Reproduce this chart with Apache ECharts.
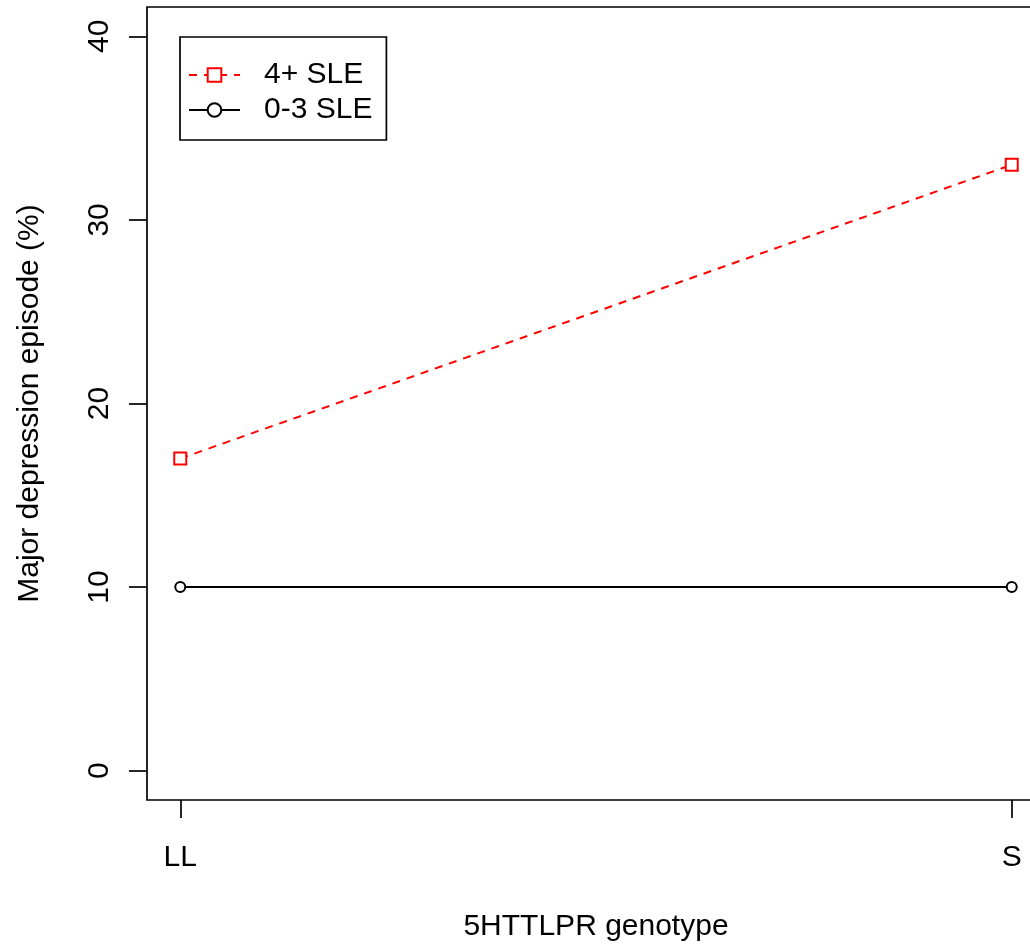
<!DOCTYPE html>
<html>
<head>
<meta charset="utf-8">
<script src="https://cdn.jsdelivr.net/npm/echarts@6/dist/echarts.min.js"></script>
<style>
  html, body { margin: 0; padding: 0; background: #fff; }
  #chart { width: 1030px; height: 948px; }
</style>
</head>
<body>
<div id="chart"></div>
<script>
// Genotype groups along the x axis
const genotypes = ['LL', 'S'];
// Percent with a major depression episode, by number of stressful life events
const sle4plus = [17, 33];
const sle0to3 = [10, 10];
const seriesNames = ['4+ SLE', '0-3 SLE'];
// Y axis tick values
const yTicks = [0, 10, 20, 30, 40];

const FONT = 'Liberation Sans, Arial, Helvetica, sans-serif';
const xPos = genotypes.map((g, i) => i + 1);

const chart = echarts.init(document.getElementById('chart'), null, { renderer: 'canvas' });

chart.setOption({
  animation: false,
  backgroundColor: '#fff',
  grid: {
    left: 147, top: 7, height: 793, width: 898,
    outerBoundsMode: 'none', containLabel: false,
    show: true, borderColor: '#000', borderWidth: 1.7, backgroundColor: 'transparent'
  },
  legend: {
    left: 180, top: 37,
    orient: 'vertical',
    data: seriesNames,
    backgroundColor: '#fff',
    borderColor: '#000', borderWidth: 1.7,
    padding: [23, 14, 15, 8],
    itemWidth: 51, itemHeight: 17, itemGap: 5,
    textStyle: { fontFamily: FONT, fontSize: 30, color: '#000', padding: [0, 0, 0, 19] }
  },
  xAxis: {
    type: 'value',
    min: 0.96, max: 2.04,
    splitLine: { show: false },
    axisLine: { show: false, onZero: false },
    axisTick: { show: true, inside: false, customValues: xPos, length: 18, lineStyle: { color: '#000', width: 1.7 } },
    axisLabel: {
      customValues: xPos, margin: 43,
      formatter: v => genotypes[Math.round(v) - 1] || '',
      fontFamily: FONT, fontSize: 30, color: '#000'
    },
    name: '5HTTLPR genotype',
    nameLocation: 'middle', nameGap: 112,
    nameTextStyle: { fontFamily: FONT, fontSize: 30, color: '#000' }
  },
  yAxis: {
    type: 'value',
    min: -1.6, max: 41.6,
    splitLine: { show: false },
    axisLine: { show: false, onZero: false },
    axisTick: { show: true, inside: false, customValues: yTicks, length: 18, lineStyle: { color: '#000', width: 1.7 } },
    axisLabel: {
      customValues: yTicks, rotate: 90, margin: 32,
      fontFamily: FONT, fontSize: 30, color: '#000'
    },
    name: 'Major depression episode (%)',
    nameLocation: 'middle', nameGap: 102,
    nameTextStyle: { fontFamily: FONT, fontSize: 30, color: '#000' }
  },
  series: [
    {
      name: seriesNames[0], type: 'line',
      data: xPos.map((x, i) => [x, sle4plus[i]]),
      symbol: 'rect', symbolSize: 12, showAllSymbol: true,
      lineStyle: { color: '#ff0000', width: 2, type: [8, 7] },
      itemStyle: { color: '#fff', borderColor: '#ff0000', borderWidth: 2 }
    },
    {
      name: seriesNames[1], type: 'line',
      data: xPos.map((x, i) => [x, sle0to3[i]]),
      symbol: 'circle', symbolSize: 10, showAllSymbol: true,
      lineStyle: { color: '#000', width: 2 },
      itemStyle: { color: '#fff', borderColor: '#000', borderWidth: 2 }
    }
  ]
});
</script>
</body>
</html>
